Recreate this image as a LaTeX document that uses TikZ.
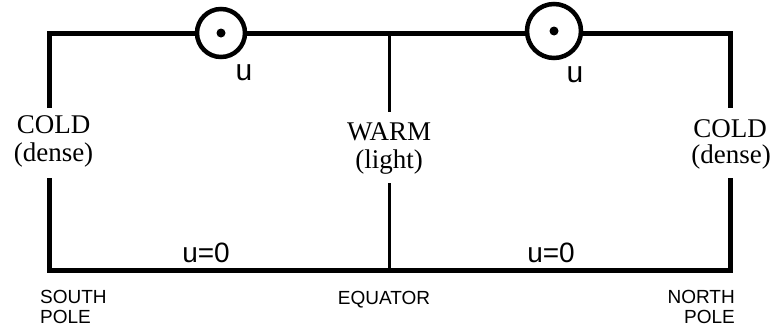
\documentclass[tikz,border=0pt]{standalone}
\usepackage{fontspec}
\setmainfont{Liberation Serif}
\setsansfont{Liberation Sans}
\begin{document}
\begin{tikzpicture}[x=1pt,y=-1pt,
  frame/.style={line width=5pt, line join=miter},
  midline/.style={line width=3pt},
  serif/.style={font=\fontsize{27}{30}\selectfont, inner sep=0pt, anchor=base},
  lab/.style={font=\sffamily\fontsize{28}{30}\selectfont, inner sep=0pt, anchor=base},
  toplab/.style={font=\sffamily\fontsize{30}{30}\selectfont, inner sep=0pt, anchor=base},
  pole/.style={font=\sffamily\fontsize{19}{20}\selectfont, inner sep=0pt},
  ring/.style={circle, draw, line width=4.5pt, fill=white, inner sep=0pt},
  dotmark/.style={circle, fill, inner sep=0pt, minimum size=9pt}]
\useasboundingbox (0,0) rectangle (773,327);

% corners and line ends
\coordinate (tl) at (49,33);
\coordinate (tr) at (730,33);
\coordinate (bl) at (49,270.5);
\coordinate (br) at (730,270.5);
\coordinate (tm) at (389,33);
\coordinate (bm) at (389,270.5);
\coordinate (lgapA) at (49,108);
\coordinate (lgapB) at (49,178);
\coordinate (rgapA) at (730,108);
\coordinate (rgapB) at (730,178);
\coordinate (mgapA) at (389,112);
\coordinate (mgapB) at (389,183);

% frame
\draw[frame] (lgapA) -- (tl) -- (tr) -- (rgapA);
\draw[frame] (lgapB) -- (bl) -- (br) -- (rgapB);
\draw[midline] (tm) -- (mgapA);
\draw[midline] (mgapB) -- (bm);

% out-of-page velocity symbols
\node[ring, minimum size=48pt] (ring1) at (221,33) {};
\node[dotmark] (dot1) at (ring1.center) {};
\node[ring, minimum size=54pt] (ring2) at (554,31) {};
\node[dotmark] (dot2) at (ring2.center) {};

\node[toplab] (u1) at (244,80) {u};
\node[toplab] (u2) at (575,82) {u};
\node[lab] (u0l) at (206,262) {u=0};
\node[lab] (u0r) at (551,262) {u=0};

% density labels
\node[serif] (coldL1) at (53.5,133) {COLD};
\node[serif] (coldL2) at (53.5,161) {(dense)};
\node[serif] (warm1) at (389,140) {WARM};
\node[serif] (warm2) at (389,168) {(light)};
\node[serif] (coldR1) at (730,137) {COLD};
\node[serif] (coldR2) at (731,163) {(dense)};

% bottom labels
\node[pole, anchor=base west] (south1) at (40,303) {SOUTH};
\node[pole, anchor=base west] (south2) at (40,323) {POLE};
\node[pole, anchor=base] (equator) at (384,304) {EQUATOR};
\node[pole, anchor=base east] (north1) at (735,303) {NORTH};
\node[pole, anchor=base east] (north2) at (735,323) {POLE};
\end{tikzpicture}
\end{document}
